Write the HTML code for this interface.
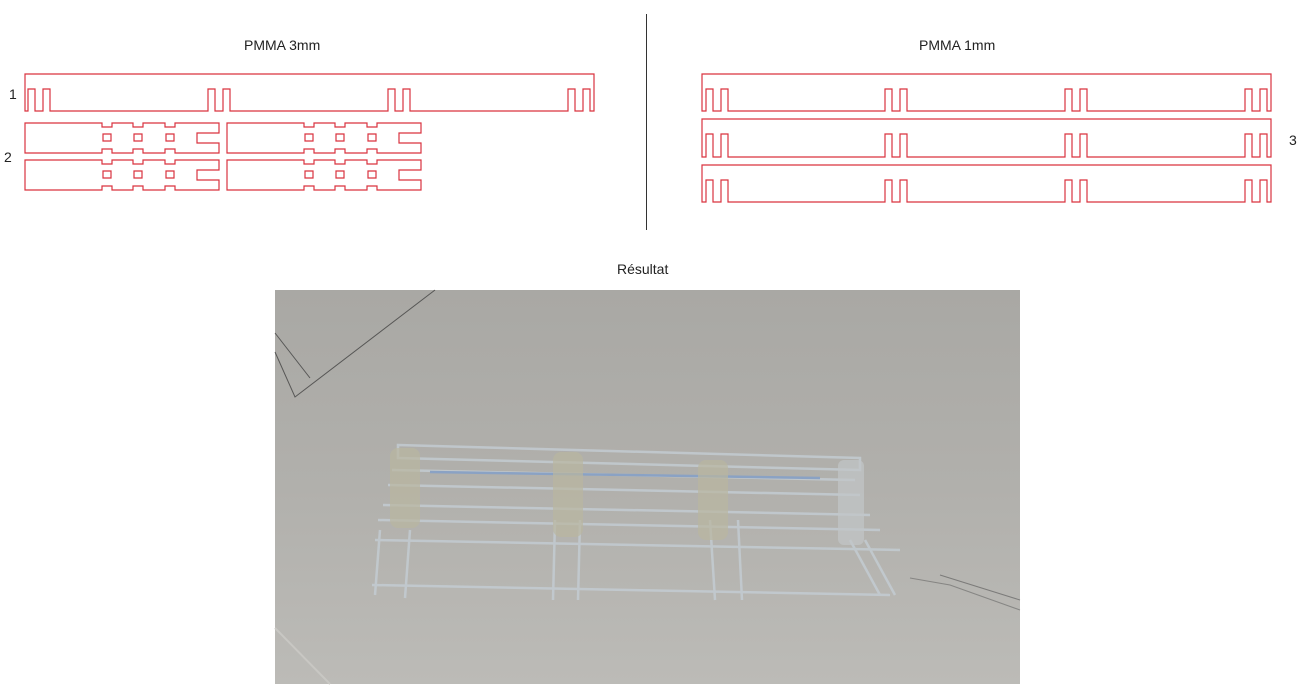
<!DOCTYPE html>
<html><head><meta charset="utf-8"><style>
html,body{margin:0;padding:0;background:#fff;}
body{width:1310px;height:698px;position:relative;overflow:hidden;font-family:"Liberation Sans",sans-serif;}
.t{position:absolute;font-size:14px;color:#222;}
</style></head><body>
<svg id="s" width="1310" height="698" style="position:absolute;left:0;top:0">
<defs>
<linearGradient id="g" x1="0" y1="0" x2="0" y2="1">
<stop offset="0" stop-color="#a9a8a4"/><stop offset="0.5" stop-color="#b1b0ac"/><stop offset="1" stop-color="#bcbbb7"/>
</linearGradient>
</defs>
<line x1="646.5" y1="14" x2="646.5" y2="230" stroke="#333" stroke-width="1"/>
<g id="red" fill="none" stroke="#d9333f" stroke-width="1.2"></g>
<rect x="275" y="290" width="745" height="394" fill="url(#g)"/>
<g stroke="#333" stroke-width="1" fill="none" opacity="0.7">
<path d="M275,352 L295,397 L435,290"/>
<path d="M275,333 L310,378"/>
</g>
<path d="M275,628 L330,684" stroke="#c8c7c3" stroke-width="2" fill="none"/>
<path d="M940,575 L1020,600" stroke="#555" stroke-width="1" opacity="0.6"/>
<path d="M910,578 L950,585 L1020,610" stroke="#555" stroke-width="1" fill="none" opacity="0.5"/>
<g fill="none" stroke="#c4cdd4" stroke-width="2.5" opacity="0.8">
<path d="M398,445 L860,458 L860,470 L398,458 Z"/>
<path d="M392,470 L855,480"/>
<path d="M388,485 L860,495"/>
<path d="M383,505 L870,515"/>
<path d="M378,520 L880,530"/>
<path d="M375,540 L900,550"/>
<path d="M372,585 L890,595"/>
<path d="M380,530 L375,595 M410,530 L405,598"/>
<path d="M555,520 L553,600 M580,520 L578,600"/>
<path d="M710,520 L715,600 M738,520 L742,600"/>
<path d="M850,540 L880,595 M865,540 L895,595"/>
</g>
<path d="M430,472 L820,478" stroke="#8aa2c4" stroke-width="2.5"/>
<g fill="#b9b6a0" opacity="0.7">
<rect x="390" y="448" width="30" height="80" rx="8"/>
<rect x="553" y="452" width="30" height="85" rx="8"/>
<rect x="698" y="460" width="30" height="80" rx="8"/>
<rect x="838" y="460" width="26" height="85" rx="6" fill="#c2c6c8"/>
</g>
</svg>
<div class="t" style="left:244px;top:37px">PMMA 3mm</div>
<div class="t" style="left:919px;top:37px">PMMA 1mm</div>
<div class="t" style="left:9px;top:86px">1</div>
<div class="t" style="left:4px;top:149px">2</div>
<div class="t" style="left:1289px;top:132px">3</div>
<div class="t" style="left:617px;top:261px">Résultat</div>
<script>
var g=document.getElementById('red'),ns='http://www.w3.org/2000/svg';
function add(d){var p=document.createElementNS(ns,'path');p.setAttribute('d',d);g.appendChild(p);}
function piece(L,R,T,B,F,pairs){var d='M'+L+','+T+' H'+R+' V'+B;
pairs.slice().reverse().forEach(function(p){d+=' H'+(p+22)+' V'+F+' H'+(p+15)+' V'+B+' H'+(p+7)+' V'+F+' H'+p+' V'+B;});
d+=' H'+L+' Z';add(d);}
piece(25,594,74,111,89,[28,208,388,568]);
var pr=[706,885,1065,1245];
piece(702,1271,74,111,89,pr);
piece(702,1271,119,157,134,pr);
piece(702,1271,165,202,180,pr);
function p2(dx,dy){function X(v){return v+dx;}function Y(v){return v+dy;}
var d='M'+X(25)+','+Y(123)+' H'+X(102)+' V'+Y(127)+' H'+X(112)+' V'+Y(123)+' H'+X(133)+' V'+Y(127)+' H'+X(143)+' V'+Y(123)+' H'+X(165)+' V'+Y(127)+' H'+X(175)+' V'+Y(123)+' H'+X(219)+' V'+Y(133)+' H'+X(197)+' V'+Y(143)+' H'+X(219)+' V'+Y(153)+' H'+X(175)+' V'+Y(149)+' H'+X(165)+' V'+Y(153)+' H'+X(143)+' V'+Y(149)+' H'+X(133)+' V'+Y(153)+' H'+X(112)+' V'+Y(149)+' H'+X(102)+' V'+Y(153)+' H'+X(25)+' Z';
add(d);[103,134,166].forEach(function(h){add('M'+X(h)+','+Y(134)+' h8 v7 h-8 Z');});}
p2(0,0);p2(202,0);p2(0,37);p2(202,37);
</script>
</body></html>
